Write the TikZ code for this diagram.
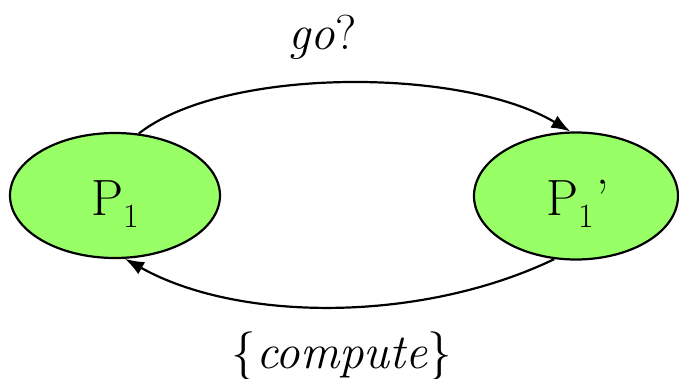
\documentclass[tikz,border=0pt]{standalone}
\usetikzlibrary{shapes.geometric,arrows.meta}
\definecolor{stategreen}{RGB}{153,255,102}
\tikzset{
  statebox/.style={ellipse,draw=black,line width=2.2pt,fill=stategreen,inner sep=0pt},
  labeltext/.style={inner sep=0pt,anchor=base,font=\rmfamily\fontsize{49}{60}\selectfont},
  statetext/.style={inner sep=0pt,anchor=base west,font=\rmfamily\fontsize{51}{60}\selectfont},
  conn/.style={line width=2.2pt,-{Latex[length=19pt,width=14pt]}}
}
\newcommand{\subone}{\raisebox{-13pt}{\fontsize{34}{40}\selectfont 1}}
\begin{document}
\begin{tikzpicture}[x=1pt,y=-1pt]
\useasboundingbox (0,0) rectangle (679,379);
\node[statebox,minimum width=210pt,minimum height=125pt] (A) at (115,195.5) {};
\node[statebox,minimum width=204pt,minimum height=127pt] (B) at (576,196) {};
\node[statetext] (At) at (91,215) {P\subone};
\node[statetext] (Bt) at (546,215) {P\subone\hspace{3pt}’};
\node[labeltext] (go) at (322.5,50) {\textit{go}?};
\node[labeltext] (comp) at (342,368) {\{\textit{compute}\}};
\draw[conn] (A.69) .. controls (224,66.8) and (462,66.8) .. (B.95);
\draw[conn] (B.251) .. controls (422,322.7) and (239,322.7) .. (A.279);
\end{tikzpicture}
\end{document}
